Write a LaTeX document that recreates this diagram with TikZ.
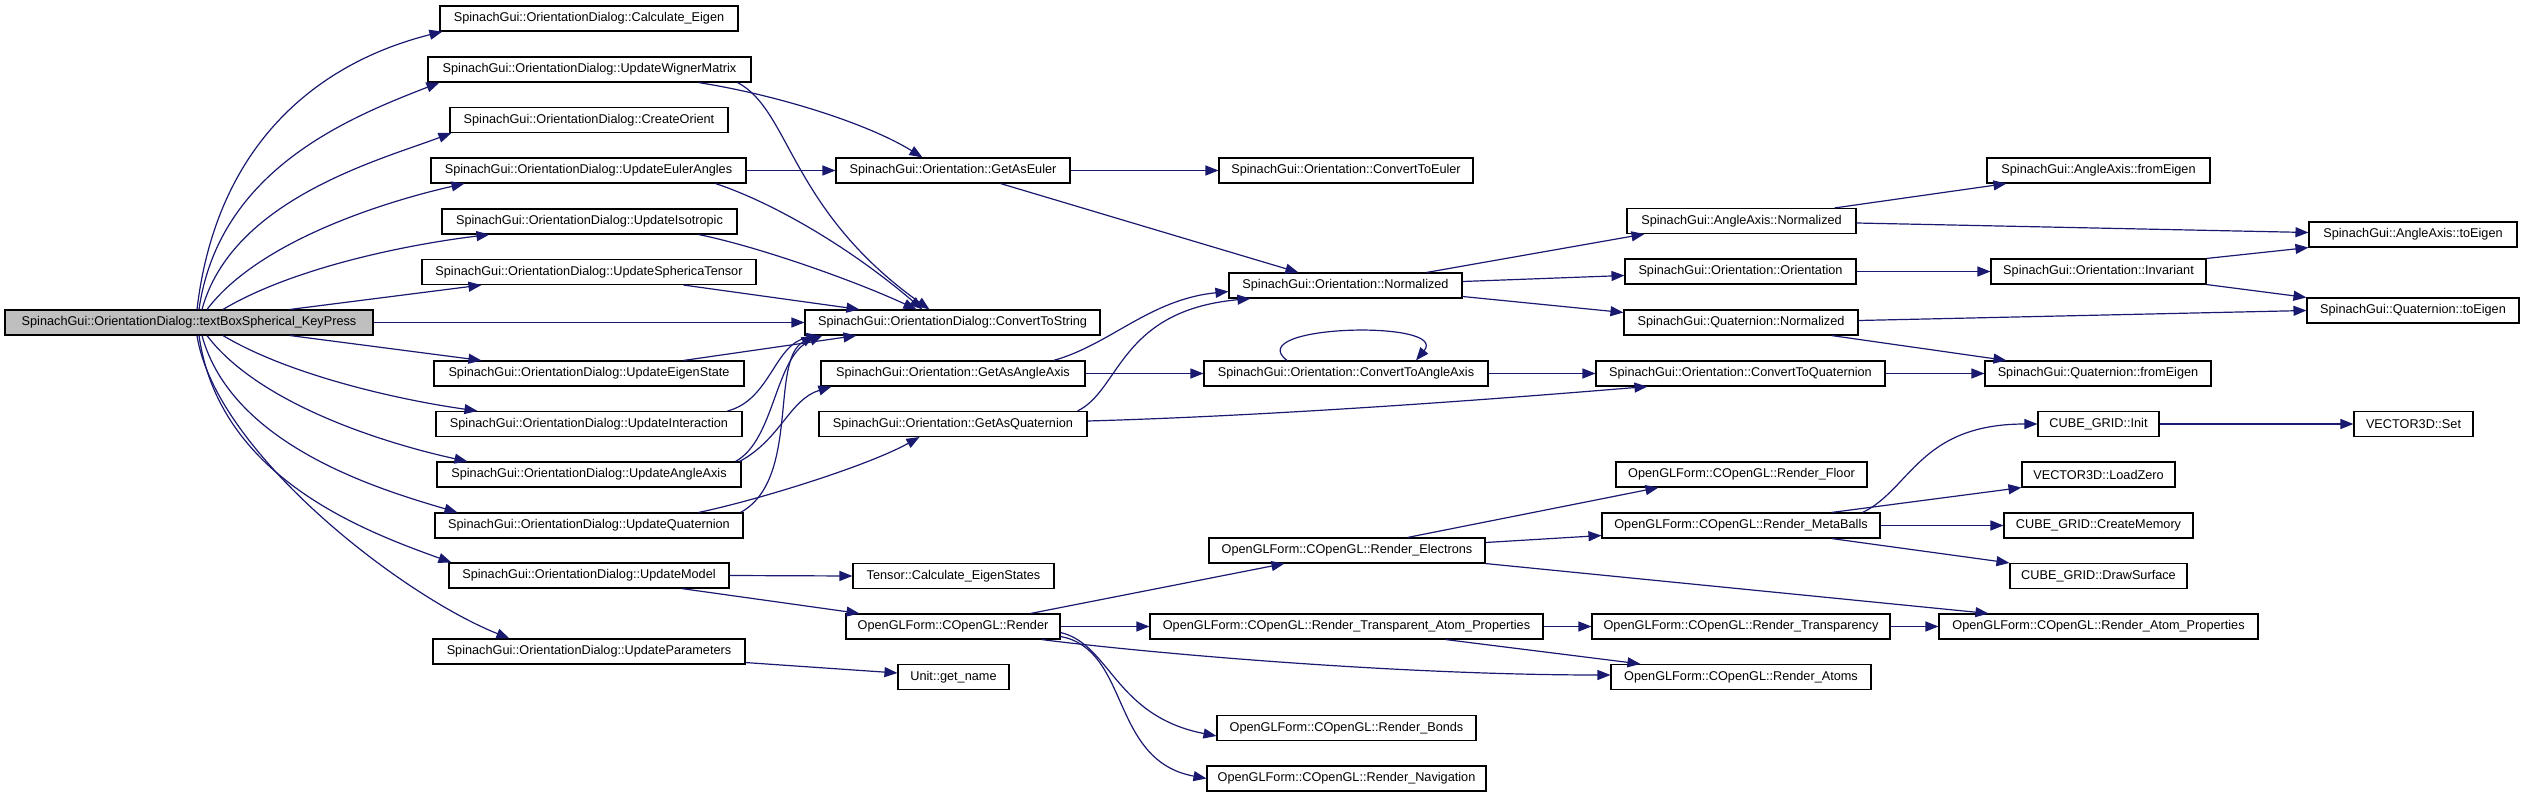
\documentclass[tikz,border=0pt]{standalone}
\usepackage{fontspec}
\setmainfont{Liberation Sans}
\usepackage{xcolor}
\usetikzlibrary{arrows.meta}
\definecolor{edgeblue}{HTML}{191970}
\definecolor{rootgray}{HTML}{BFBFBF}

\begin{document}
\begin{tikzpicture}[
        x=1pt, y=-1pt,
        fn/.style={draw=black, rectangle, fill=white, line width=1.1pt, minimum height=25pt, inner sep=0pt, font=\fontsize{12.7}{15}\selectfont},
        rootfn/.style={fn, fill=rootgray},
        call/.style={draw=edgeblue, line width=1.2pt, -{Triangle[length=13pt, width=10pt]}}
    ]
    \useasboundingbox (0,0) rectangle (2525,797);

    \node[rootfn, minimum width=368] (root) at (189,322.5) {SpinachGui::OrientationDialog::textBoxSpherical\_KeyPress};

    % first level
    \node[fn, minimum width=298] (calcEigen) at (589,18.5) {SpinachGui::OrientationDialog::Calculate\_Eigen};
    \node[fn, minimum width=323] (updWigner) at (589.5,69.5) {SpinachGui::OrientationDialog::UpdateWignerMatrix};
    \node[fn, minimum width=278] (createOrient) at (589,120) {SpinachGui::OrientationDialog::CreateOrient};
    \node[fn, minimum width=315] (updEuler) at (588.5,170.5) {SpinachGui::OrientationDialog::UpdateEulerAngles};
    \node[fn, minimum width=295] (updIso) at (589.5,221.5) {SpinachGui::OrientationDialog::UpdateIsotropic};
    \node[fn, minimum width=334] (updSpher) at (589,272) {SpinachGui::OrientationDialog::UpdateSphericaTensor};
    \node[fn, minimum width=310] (updEigState) at (589,373.5) {SpinachGui::OrientationDialog::UpdateEigenState};
    \node[fn, minimum width=306] (updInter) at (589,424) {SpinachGui::OrientationDialog::UpdateInteraction};
    \node[fn, minimum width=304] (updAngleAxis) at (589,474.5) {SpinachGui::OrientationDialog::UpdateAngleAxis};
    \node[fn, minimum width=308] (updQuat) at (589,525.5) {SpinachGui::OrientationDialog::UpdateQuaternion};
    \node[fn, minimum width=280] (updModel) at (589,575.5) {SpinachGui::OrientationDialog::UpdateModel};
    \node[fn, minimum width=312] (updParam) at (589,651.5) {SpinachGui::OrientationDialog::UpdateParameters};

    % second level
    \node[fn, minimum width=234] (getAsEuler) at (953,170.5) {SpinachGui::Orientation::GetAsEuler};
    \node[fn, minimum width=295] (convString) at (952.5,322.5) {SpinachGui::OrientationDialog::ConvertToString};
    \node[fn, minimum width=264] (getAsAngleAxis) at (953,373.5) {SpinachGui::Orientation::GetAsAngleAxis};
    \node[fn, minimum width=268] (getAsQuat) at (953,424) {SpinachGui::Orientation::GetAsQuaternion};
    \node[fn, minimum width=201] (calcEigStates) at (953.5,576) {Tensor::Calculate\_EigenStates};
    \node[fn, minimum width=214] (render) at (953,626.5) {OpenGLForm::COpenGL::Render};
    \node[fn, minimum width=111] (getName) at (953.5,677) {Unit::get\_name};

    % third level
    \node[fn, minimum width=254] (convEuler) at (1346,170.5) {SpinachGui::Orientation::ConvertToEuler};
    \node[fn, minimum width=233] (orNormalized) at (1345.5,285.5) {SpinachGui::Orientation::Normalized};
    \node[fn, minimum width=284] (convAngleAxis) at (1346,373.5) {SpinachGui::Orientation::ConvertToAngleAxis};
    \node[fn, minimum width=276] (renderElectrons) at (1347,550.5) {OpenGLForm::COpenGL::Render\_Electrons};
    \node[fn, minimum width=393] (renderTranspAtom) at (1346.5,626.5) {OpenGLForm::COpenGL::Render\_Transparent\_Atom\_Properties};
    \node[fn, minimum width=259] (renderBonds) at (1346.5,728) {OpenGLForm::COpenGL::Render\_Bonds};
    \node[fn, minimum width=279] (renderNav) at (1346.5,778.5) {OpenGLForm::COpenGL::Render\_Navigation};

    % fourth level
    \node[fn, minimum width=229] (aaNormalized) at (1741.5,221) {SpinachGui::AngleAxis::Normalized};
    \node[fn, minimum width=231] (orOrientation) at (1740.5,271.5) {SpinachGui::Orientation::Orientation};
    \node[fn, minimum width=234] (quatNormalized) at (1741,322.5) {SpinachGui::Quaternion::Normalized};
    \node[fn, minimum width=289] (convQuat) at (1740.5,373.5) {SpinachGui::Orientation::ConvertToQuaternion};
    \node[fn, minimum width=251] (renderFloor) at (1741.5,474.5) {OpenGLForm::COpenGL::Render\_Floor};
    \node[fn, minimum width=278] (renderMeta) at (1741,525.5) {OpenGLForm::COpenGL::Render\_MetaBalls};
    \node[fn, minimum width=298] (renderTransparency) at (1741,626.5) {OpenGLForm::COpenGL::Render\_Transparency};
    \node[fn, minimum width=260] (renderAtoms) at (1741,677) {OpenGLForm::COpenGL::Render\_Atoms};

    % fifth level
    \node[fn, minimum width=223] (aaFromEigen) at (2098.5,170.5) {SpinachGui::AngleAxis::fromEigen};
    \node[fn, minimum width=215] (orInvariant) at (2098.5,271.5) {SpinachGui::Orientation::Invariant};
    \node[fn, minimum width=226] (quatFromEigen) at (2098,373.5) {SpinachGui::Quaternion::fromEigen};
    \node[fn, minimum width=121] (cubeInit) at (2098.5,424) {CUBE\_GRID::Init};
    \node[fn, minimum width=153] (loadZero) at (2098.5,474.5) {VECTOR3D::LoadZero};
    \node[fn, minimum width=189] (createMemory) at (2098.5,525.5) {CUBE\_GRID::CreateMemory};
    \node[fn, minimum width=177] (drawSurface) at (2098.5,576) {CUBE\_GRID::DrawSurface};
    \node[fn, minimum width=319] (renderAtomProps) at (2098.5,626.5) {OpenGLForm::COpenGL::Render\_Atom\_Properties};

    % last level
    \node[fn, minimum width=208] (aaToEigen) at (2413,234.5) {SpinachGui::AngleAxis::toEigen};
    \node[fn, minimum width=212] (quatToEigen) at (2413,310.5) {SpinachGui::Quaternion::toEigen};
    \node[fn, minimum width=119] (vecSet) at (2413.5,424) {VECTOR3D::Set};

    % calls from the root
    \draw[call] ([xshift=8]root.north) .. controls +(20,-170) and +(-120,30) .. ([xshift=3]calcEigen.south west);
    \draw[call] ([xshift=10]root.north) .. controls +(20,-140) and +(-90,35) .. ([xshift=12]updWigner.south west);
    \draw[call] ([xshift=13]root.north) .. controls +(30,-110) and +(-72,27) .. ([xshift=2]createOrient.south west);
    \draw[call] ([xshift=18]root.north) .. controls +(53,-70) and +(-75,17) .. ([xshift=34]updEuler.south west);
    \draw[call] ([xshift=34]root.north) .. controls +(67,-40) and +(-90,11) .. ([xshift=48]updIso.south west);
    \draw[call] ([xshift=101]root.north) -- ([xshift=60]updSpher.south west);
    \draw[call] (root.east) -- (convString.west);
    \draw[call] ([xshift=101]root.south) -- ([xshift=48]updEigState.north west);
    \draw[call] ([xshift=34]root.south) .. controls +(67,40) and +(-78,-11) .. ([xshift=42]updInter.north west);
    \draw[call] ([xshift=18]root.south) .. controls +(53,70) and +(-78,-17) .. ([xshift=31]updAngleAxis.north west);
    \draw[call] ([xshift=13]root.south) .. controls +(30,110) and +(-78,-23) .. ([xshift=23]updQuat.north west);
    \draw[call] ([xshift=10]root.south) .. controls +(20,140) and +(-92,-33) .. ([xshift=3]updModel.north west);
    \draw[call] ([xshift=8]root.south) .. controls +(18,115) and +(-110,-44) .. ([xshift=77]updParam.north west);

    % dialog methods
    \draw[call] ([xshift=-53]updWigner.south east) .. controls +(82,13) and +(-53,-33) .. ([xshift=87]getAsEuler.north west);
    \draw[call] ([xshift=-14]updWigner.south east) .. controls +(53,28) and +(-140,-100) .. ([xshift=125]convString.north west);
    \draw[call] (updEuler.east) -- (getAsEuler.west);
    \draw[call] ([xshift=-31]updEuler.south east) .. controls +(60,20) and +(-70,-60) .. ([xshift=118]convString.north west);
    \draw[call] ([xshift=-39]updIso.south east) .. controls +(60,12) and +(-60,-28) .. ([xshift=112]convString.north west);
    \draw[call] ([xshift=-73]updSpher.south east) -- ([xshift=55]convString.north west);
    \draw[call] ([xshift=-61]updEigState.north east) -- ([xshift=52]convString.south west);
    \draw[call] ([xshift=-15]updInter.north east) .. controls +(43,-11) and +(-45,8) .. ([xshift=15]convString.south west);
    \draw[call] ([xshift=-6]updAngleAxis.north east) .. controls +(40,-22) and +(-48,20) .. ([xshift=18]convString.south west);
    \draw[call] ([xshift=-2]updAngleAxis.north east) .. controls +(41,-22) and +(-42,13) .. ([xshift=11]getAsAngleAxis.south west);
    \draw[call] ([xshift=-45]updQuat.north east) .. controls +(62,-13) and +(-50,28) .. ([xshift=101]getAsQuat.south west);
    \draw[call] ([xshift=-3]updQuat.north east) .. controls +(60,-33) and +(-45,25) .. ([xshift=10]convString.south west);
    \draw[call] (updModel.east) -- (calcEigStates.west);
    \draw[call] ([xshift=-48]updModel.south east) -- ([xshift=14]render.north west);
    \draw[call] ([yshift=2]updParam.south east) -- ([yshift=4]getName.west);

    % orientation
    \draw[call] (getAsEuler.east) -- (convEuler.west);
    \draw[call] ([xshift=-70]getAsEuler.south east) -- ([xshift=70]orNormalized.north west);
    \draw[call] ([xshift=-32]getAsAngleAxis.north east) .. controls +(57,-16) and +(-79,8) .. ([yshift=-6]orNormalized.west);
    \draw[call] ([xshift=-10]getAsQuat.north east) .. controls +(43,-21) and +(-131,12) .. ([xshift=22]orNormalized.south west);
    \draw[call] (getAsAngleAxis.east) -- (convAngleAxis.west);
    \draw[call] ([yshift=3]getAsQuat.east) .. controls +(213,-6) and +(-98,8) .. ([xshift=52]convQuat.south west);
    \draw[call] ([xshift=-59]convAngleAxis.north) .. controls +(-47,-36) and +(34,-41) .. ([xshift=70]convAngleAxis.north);
    \draw[call] (convAngleAxis.east) -- (convQuat.west);
    \draw[call] ([xshift=-36]orNormalized.north east) -- ([xshift=18]aaNormalized.south west);
    \draw[call] ([yshift=4]orNormalized.east) -- ([yshift=-4]orOrientation.west);
    \draw[call] ([yshift=-11]orNormalized.east) -- ([yshift=10]quatNormalized.west);
    \draw[call] ([xshift=-22]aaNormalized.north east) -- ([xshift=20]aaFromEigen.south west);
    \draw[call] ([yshift=-2]aaNormalized.east) -- ([yshift=2]aaToEigen.west);
    \draw[call] (orOrientation.east) -- (orInvariant.west);
    \draw[call] (orInvariant.north east) -- (aaToEigen.south west);
    \draw[call] (orInvariant.south east) -- (quatToEigen.north west);
    \draw[call] ([yshift=2]quatNormalized.east) -- (quatToEigen.west);
    \draw[call] ([xshift=-27]quatNormalized.south east) -- ([xshift=22]quatFromEigen.north west);
    \draw[call] (convQuat.east) -- (quatFromEigen.west);

    % rendering
    \draw[call] ([xshift=-30]render.north east) -- ([xshift=76]renderElectrons.south west);
    \draw[call] (render.east) -- (renderTranspAtom.west);
    \draw[call] ([xshift=-19]render.south east) .. controls +(110,14) and +(-210,0) .. ([yshift=2]renderAtoms.west);
    \draw[call] ([yshift=-6]render.east) .. controls +(50,12) and +(-102,-20) .. ([yshift=-8]renderBonds.west);
    \draw[call] ([yshift=-10]render.east) .. controls +(70,13) and +(-97,-18) .. (renderNav.west);
    \draw[call] ([xshift=-78]renderElectrons.north east) -- ([xshift=43]renderFloor.south west);
    \draw[call] ([yshift=8]renderElectrons.east) -- ([yshift=-10]renderMeta.west);
    \draw[call] (renderElectrons.south east) -- ([xshift=50]renderAtomProps.north west);
    \draw[call] (renderTranspAtom.east) -- (renderTransparency.west);
    \draw[call] ([xshift=-98]renderTranspAtom.south east) -- ([xshift=30]renderAtoms.north west);
    \draw[call] ([xshift=-18]renderMeta.north east) .. controls +(48,-23) and +(-118,0) .. (cubeInit.west);
    \draw[call] ([xshift=-49]renderMeta.north east) -- (loadZero.south west);
    \draw[call] (renderMeta.east) -- (createMemory.west);
    \draw[call] ([xshift=-49]renderMeta.south east) -- (drawSurface.north west);
    \draw[call] (renderTransparency.east) -- (renderAtomProps.west);
    \draw[call] (cubeInit.east) -- (vecSet.west);
\end{tikzpicture}
\end{document}
